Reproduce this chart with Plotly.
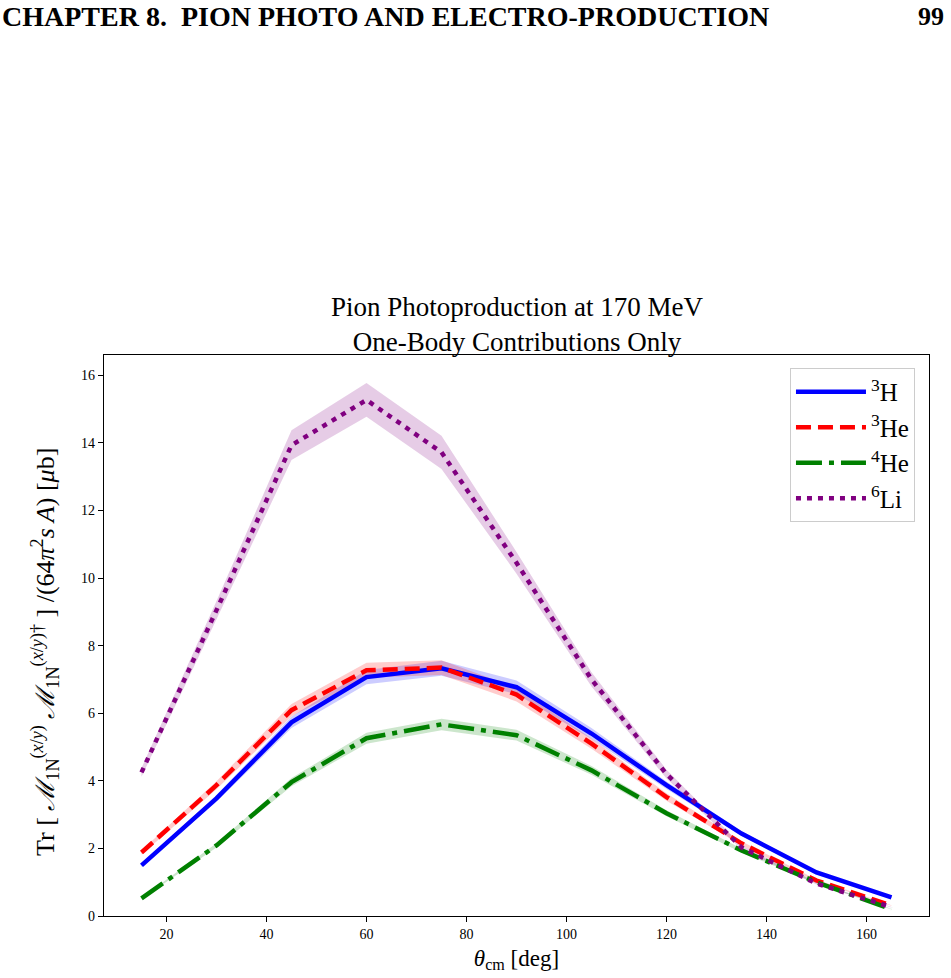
import plotly.graph_objects as go

theta = [15, 30, 45, 60, 75, 90, 105, 120, 135, 150, 165]

h3 = [1.50, 3.48, 5.73, 7.07, 7.33, 6.77, 5.40, 3.87, 2.44, 1.29, 0.55]
he3 = [1.88, 3.87, 6.09, 7.27, 7.35, 6.55, 5.10, 3.52, 2.15, 1.05, 0.31]
he4 = [0.52, 2.09, 3.96, 5.26, 5.67, 5.35, 4.31, 3.04, 1.94, 1.00, 0.20]
li6 = [4.25, 9.05, 13.93, 15.27, 13.72, 10.45, 7.00, 4.20, 2.03, 0.96, 0.26]

h3_err = [0.04, 0.10, 0.17, 0.21, 0.22, 0.20, 0.16, 0.11, 0.07, 0.04, 0.02]
he3_err = [0.06, 0.12, 0.18, 0.22, 0.22, 0.20, 0.15, 0.11, 0.06, 0.03, 0.01]
he4_err = [0.02, 0.06, 0.12, 0.16, 0.17, 0.16, 0.13, 0.09, 0.06, 0.03, 0.01]
li6_err = [0.13, 0.27, 0.44, 0.50, 0.49, 0.32, 0.21, 0.13, 0.06, 0.03, 0.01]

labels = ["<sup>3</sup>H", "<sup>3</sup>He", "<sup>4</sup>He", "<sup>6</sup>Li"]
colors = ["#0000ff", "#ff0000", "#008000", "#800080"]
bands = ["rgba(0,0,255,0.2)", "rgba(255,0,0,0.2)", "rgba(0,128,0,0.2)", "rgba(128,0,128,0.2)"]
dashes = ["solid", "15px,7px", "26px,7px,5px,7px", "5px,6px"]

series = [h3, he3, he4, li6]
errs = [h3_err, he3_err, he4_err, li6_err]

SERIF = "Liberation Serif, DejaVu Serif, serif"

fig = go.Figure()
for ys, es, bc in zip(series, errs, bands):
    up = [y + e for y, e in zip(ys, es)]
    lo = [y - e for y, e in zip(ys, es)]
    fig.add_trace(go.Scatter(
        x=theta + theta[::-1], y=up + lo[::-1], fill="toself",
        fillcolor=bc, line=dict(width=0), mode="lines",
        showlegend=False, hoverinfo="skip"))
for ys, lab, c, d in zip(series, labels, colors, dashes):
    fig.add_trace(go.Scatter(
        x=theta, y=ys, mode="lines", name=lab,
        line=dict(color=c, width=4.5, dash=d)))

fig.update_layout(
    width=951, height=978,
    margin=dict(l=104, r=22, t=355, b=62),
    paper_bgcolor="white", plot_bgcolor="white",
    font=dict(family=SERIF, color="black"),
    showlegend=True,
    legend=dict(
        x=0.983, y=0.977, xanchor="right", yanchor="top",
        bordercolor="#cccccc", borderwidth=1, bgcolor="white",
        font=dict(size=25, family=SERIF), itemwidth=70,
        tracegroupgap=4),
    xaxis=dict(
        range=[7.5, 172.5], tickvals=[20, 40, 60, 80, 100, 120, 140, 160],
        ticks="outside", ticklen=5, tickcolor="black",
        tickfont=dict(size=14, family=SERIF),
        showline=True, linecolor="black", linewidth=1.3, mirror=True,
        showgrid=False, zeroline=False,
        title=dict(text="<i>θ</i><sub>cm</sub> [deg]", font=dict(size=23, family=SERIF), standoff=8)),
    yaxis=dict(
        range=[0, 16.6], tickvals=[0, 2, 4, 6, 8, 10, 12, 14, 16],
        ticks="outside", ticklen=5, tickcolor="black",
        tickfont=dict(size=14, family=SERIF),
        showline=True, linecolor="black", linewidth=1.3, mirror=True,
        showgrid=False, zeroline=False),
)

fig.add_annotation(
    text="Tr [ <i>ℳ</i><sub>1N</sub><sup>(<i>x</i>/<i>y</i>)</sup> <i>ℳ</i><sub>1N</sub><sup>(<i>x</i>/<i>y</i>)†</sup> ] /(64<i>π</i><sup>2</sup><i>s A</i>) [<i>μ</i>b]",
    xref="paper", yref="paper", x=(45 - 104) / 825, y=(916 - 652) / 561,
    xanchor="center", yanchor="middle", textangle=-90, showarrow=False,
    font=dict(size=26, family=SERIF))
fig.add_annotation(
    text="Pion Photoproduction at 170 MeV<br>One-Body Contributions Only",
    xref="paper", yref="paper", x=0.5, y=(916 - 324) / 561,
    xanchor="center", yanchor="middle", showarrow=False,
    font=dict(size=27, family=SERIF))
fig.add_annotation(
    text="<b>CHAPTER 8.  PION PHOTO AND ELECTRO-PRODUCTION</b>",
    xref="paper", yref="paper", x=(0 - 104) / 825, y=(916 - 16) / 561,
    xanchor="left", yanchor="middle", showarrow=False,
    font=dict(size=28, family=SERIF))
fig.add_annotation(
    text="<b>99</b>",
    xref="paper", yref="paper", x=(946 - 104) / 825, y=(916 - 16) / 561,
    xanchor="right", yanchor="middle", showarrow=False,
    font=dict(size=26, family=SERIF))

fig.write_html("out.html")
